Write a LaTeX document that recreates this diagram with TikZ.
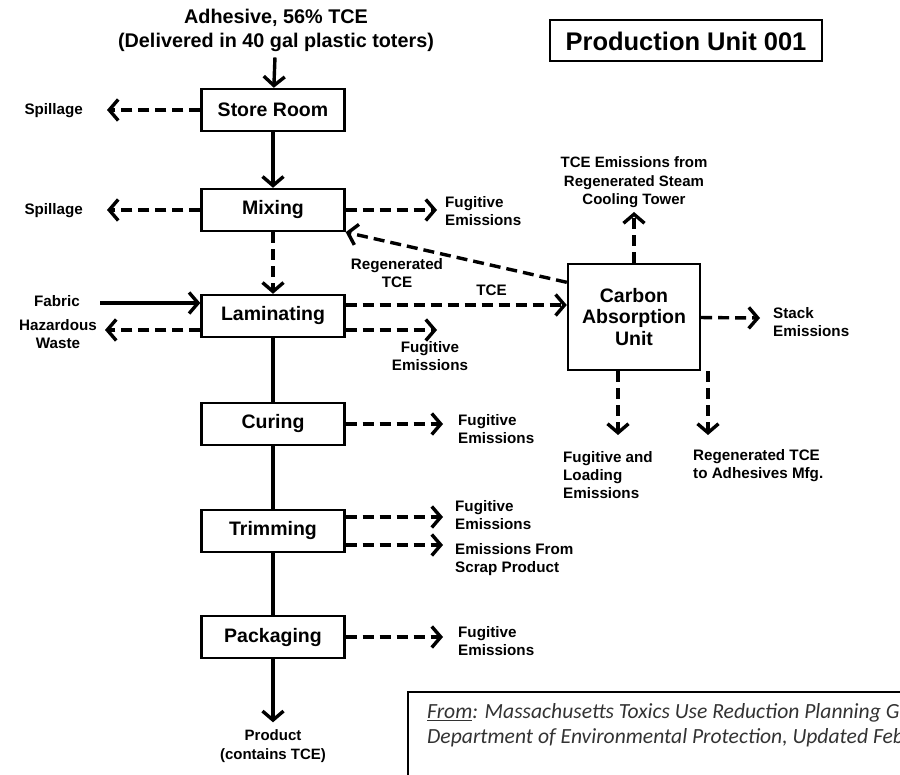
\documentclass[tikz,border=0pt]{standalone}
\usepackage{fontspec}
\setmainfont{Liberation Sans}
\newfontfamily\notefont{Carlito}
\usetikzlibrary{arrows.meta,positioning,calc}

\begin{document}
\begin{tikzpicture}[x=1pt,y=-1pt,
    box/.style={draw,line width=2.4pt,minimum width=143pt,minimum height=42pt,inner sep=0pt,
      font=\fontsize{19.5}{21.5}\selectfont\bfseries},
    flow/.style={-{Straight Barb[length=9pt,width=21pt]},line width=3.4pt},
    leak/.style={flow,dash pattern=on 11pt off 6pt},
    lbl/.style={inner sep=0pt,font=\fontsize{15.2}{18}\selectfont\bfseries,align=center}]
    \useasboundingbox (0,0) rectangle (900,775);
    \clip (0,0) rectangle (900,775);

    \node [box] (store) at (273,110){Store Room};
    \node [box] (mix) at (273,210){Mixing};
    \node [box] (lam) at (273,316){Laminating};
    \node [box] (cure) at (273,424){Curing};
    \node [box] (trim) at (273,531){Trimming};
    \node [box] (pack) at (273,637){Packaging};
    \node [box,minimum width=132pt,minimum height=106pt,align=center] (cau) at (634,317){Carbon\\Absorption\\Unit};
    \node [draw,line width=2pt,minimum width=272pt,minimum height=41pt,font=\fontsize{25.5}{28}\selectfont\bfseries] (title) at (686,41){Production Unit 001};

    \node [lbl,font=\fontsize{19.8}{24}\selectfont\bfseries] (adh) at (276,30){Adhesive, 56\% TCE\\(Delivered in 40 gal plastic toters)};
    \node [lbl,font=\fontsize{15}{19}\selectfont\bfseries] (prod) at (273,746){Product\\(contains TCE)};
    \draw [flow,shorten <=6pt] (adh) -- (store);
    \draw [flow] (store) -- (mix);
    \draw [leak] (mix) -- (lam);
    \draw [line width=3.4pt] (lam) -- (cure) (cure) -- (trim) (trim) -- (pack);
    \draw [flow,shorten >=7pt] (pack) -- (prod);

    % left side
    \coordinate (sp1) at (107,110); \coordinate (sp2) at (107,210);
    \coordinate (fab) at (100,303); \coordinate (hw) at (105,330);
    \draw [leak] (store) -- (sp1); \node [lbl,left=24pt of sp1,yshift=-1pt]{Spillage};
    \draw [leak] (mix) -- (sp2); \node [lbl,left=24pt of sp2,yshift=-1pt]{Spillage};
    \draw [flow] (fab) -- (lam.west |- fab); \node [lbl,left=20pt of fab,yshift=2pt]{Fabric};
    \draw [leak] (lam.west |- hw) -- (hw); \node [lbl,left=8pt of hw,yshift=-4pt]{Hazardous\\Waste};

    % right side of the line
    \coordinate (fe1) at (437,210); \coordinate (fe2) at (437,330);
    \coordinate (fe3) at (443,424); \coordinate (fe4) at (443,517);
    \coordinate (fe5) at (443,545); \coordinate (fe6) at (443,637);
    \draw [leak] (mix) -- (fe1); \node [lbl,align=left,right=8pt of fe1,yshift=-1pt]{Fugitive\\Emissions};
    \draw [leak] (lam.east |- fe2) -- (fe2); \node [lbl,below=11pt of fe2,xshift=-7pt]{Fugitive\\Emissions};
    \draw [leak] (cure) -- (fe3); \node [lbl,align=left,right=15pt of fe3,yshift=-5pt]{Fugitive\\Emissions};
    \draw [leak] (trim.east |- fe4) -- (fe4); \node [lbl,align=left,right=12pt of fe4,yshift=2pt]{Fugitive\\Emissions};
    \draw [leak] (trim.east |- fe5) -- (fe5); \node [lbl,align=left,right=12pt of fe5,yshift=-15pt]{Emissions From\\Scrap Product};
    \draw [leak] (pack) -- (fe6); \node [lbl,align=left,right=15pt of fe6,yshift=-4pt]{Fugitive\\Emissions};

    \draw [leak] ([yshift=11pt]lam.east) coordinate (tce) -- (tce -| cau.west) node [lbl,pos=0.66,above=8pt]{TCE};
    \draw [leak] ($(cau.north west)!0.18!(cau.south west)$) -- (mix.south east);
    \node [lbl] (regen) at (397,273){Regenerated\\TCE};

    % carbon absorption unit
    \coordinate (ct) at (634,212); \coordinate (st) at (760,318);
    \coordinate (fl) at (618,435); \coordinate (rg) at (708,435);
    \draw [leak] (cau) -- (ct); \node [lbl,font=\fontsize{15}{18.5}\selectfont\bfseries,above=4pt of ct]{TCE Emissions from\\Regenerated Steam\\Cooling Tower};
    \draw [leak] (cau) -- (st); \node [lbl,align=left,right=13pt of st,yshift=-4pt]{Stack\\Emissions};
    \draw [leak] (cau.south -| fl) -- (fl); \node [lbl,align=left,anchor=west] at (563,475){Fugitive and\\Loading\\Emissions};
    \draw [leak] (cau.south -| rg) -- (rg); \node [lbl,align=left,anchor=west] at (693,466){Regenerated TCE\\to Adhesives Mfg.};

    \draw [line width=1.4pt] (408,692) rectangle (930,800);
    \node [inner sep=0pt,anchor=west,align=left,text=black!80,font=\notefont\itshape\fontsize{21.6}{25}\selectfont] (src) at (427,725)
      {\underline{From}: Massachusetts Toxics Use Reduction Planning Guidance\\Department of Environmental Protection, Updated February};
  \end{tikzpicture}
\end{document}
